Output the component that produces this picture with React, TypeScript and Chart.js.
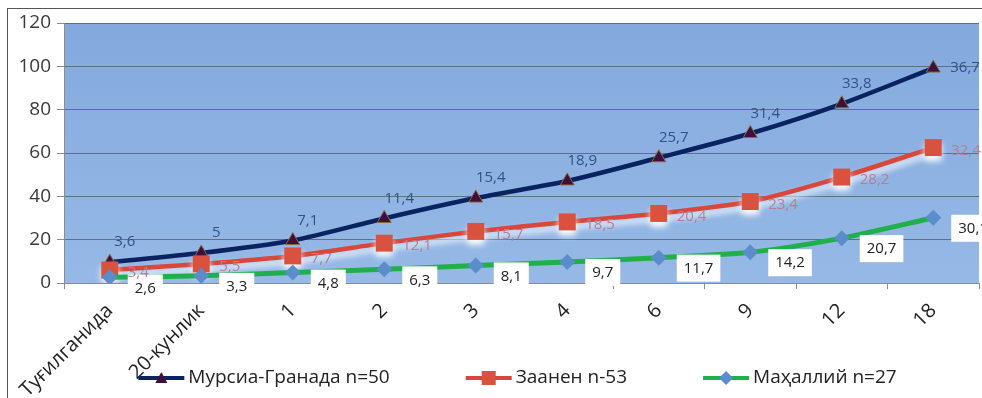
import React, { useEffect, useRef } from "react";
import { Chart, registerables } from "chart.js";

Chart.register(...registerables);

// Age points: at birth, 20 days, then months
const categories = ["Туғилганида", "20-кунлик", "1", "2", "3", "4", "6", "9", "12", "18"];

// Live weight per breed group (stacked line chart)
const murciaGranada = [3.6, 5, 7.1, 11.4, 15.4, 18.9, 25.7, 31.4, 33.8, 36.7];
const saanen = [3.4, 5.5, 7.7, 12.1, 15.7, 18.5, 20.4, 23.4, 28.2, 32.4];
const local = [2.6, 3.3, 4.8, 6.3, 8.1, 9.7, 11.7, 14.2, 20.7, 30.1];

const seriesNames = ["Мурсиа-Гранада n=50", "Заанен n-53", "Маҳаллий n=27"];

const yTicks = [0, 20, 40, 60, 80, 100, 120];

const FONT = "'Open Sans', 'Noto Sans', sans-serif";

const fmt = (v: number) => String(v).replace(".", ",");

// Plot background gradient
const plotBackground = {
  id: "plotBackground",
  beforeDraw(chart: any) {
    const { ctx, chartArea: a } = chart;
    const g = ctx.createLinearGradient(0, a.top, 0, a.bottom);
    g.addColorStop(0, "#83a9dd");
    g.addColorStop(1, "#96b9e6");
    ctx.save();
    ctx.fillStyle = g;
    ctx.fillRect(a.left, a.top, a.right - a.left, a.bottom - a.top);
    ctx.restore();
  },
};

// White glow under the Saanen line
const glow = {
  id: "glow",
  beforeDatasetDraw(chart: any, args: any) {
    const ds = chart.data.datasets[args.index];
    chart.ctx.save();
    if (ds.glow) {
      chart.ctx.shadowColor = "rgba(255,255,255,0.95)";
      chart.ctx.shadowBlur = 6;
      chart.ctx.shadowOffsetY = 5;
    }
  },
  afterDatasetDraw(chart: any) {
    chart.ctx.restore();
  },
};

// Value labels next to each point
const valueLabels = {
  id: "valueLabels",
  afterDatasetsDraw(chart: any) {
    const { ctx } = chart;
    ctx.save();
    ctx.textBaseline = "middle";
    ctx.font = `15px ${FONT}`;
    chart.data.datasets.forEach((ds: any, di: number) => {
      const meta = chart.getDatasetMeta(di);
      const last = ds.data.length - 1;
      meta.data.forEach((pt: any, i: number) => {
        const text = fmt(ds.data[i]);
        if (ds.labelStyle === "above") {
          ctx.fillStyle = "#34508a";
          if (i === last) {
            ctx.textAlign = "left";
            ctx.fillText(text, pt.x + 17, pt.y);
          } else {
            ctx.textAlign = "center";
            ctx.fillText(text, pt.x + 15, pt.y - 20);
          }
        } else if (ds.labelStyle === "right") {
          ctx.fillStyle = "#b47f95";
          ctx.textAlign = "left";
          ctx.fillText(text, pt.x + 18, pt.y + 3);
        } else {
          const w = ctx.measureText(text).width;
          const bx = pt.x + 18;
          const by = pt.y + 10;
          ctx.fillStyle = "#ffffff";
          ctx.fillRect(bx, by - 13, w + 14, 27);
          ctx.fillStyle = "#222222";
          ctx.textAlign = "left";
          ctx.fillText(text, bx + 7, by + 1);
        }
      });
    });
    ctx.restore();
  },
};

// Legend drawn across the bottom, over the rotated category labels
const bottomLegend = {
  id: "bottomLegend",
  afterDraw(chart: any) {
    const { ctx, chartArea: a } = chart;
    const order = [2, 1, 0];
    const lineLen = 46;
    const gap = 76;
    ctx.save();
    ctx.font = `19px ${FONT}`;
    ctx.textBaseline = "middle";
    ctx.textAlign = "left";
    const widths = order.map((di) => lineLen + 4 + ctx.measureText(chart.data.datasets[di].label).width);
    const total = widths.reduce((s, w) => s + w, 0) + gap * (order.length - 1);
    let x = (a.left + a.right) / 2 - total / 2 - 4;
    const y = 369;
    order.forEach((di, k) => {
      const ds = chart.data.datasets[di];
      ctx.strokeStyle = ds.borderColor;
      ctx.lineWidth = 4;
      ctx.beginPath();
      ctx.moveTo(x, y);
      ctx.lineTo(x + lineLen, y);
      ctx.stroke();
      const mx = x + lineLen / 2;
      ctx.fillStyle = ds.pointBackgroundColor;
      ctx.beginPath();
      if (ds.pointStyle === "triangle") {
        ctx.moveTo(mx, y - 6);
        ctx.lineTo(mx + 6, y + 5);
        ctx.lineTo(mx - 6, y + 5);
      } else if (ds.pointStyle === "rect") {
        ctx.rect(mx - 7, y - 7, 14, 14);
      } else {
        ctx.moveTo(mx, y - 7);
        ctx.lineTo(mx + 7, y);
        ctx.lineTo(mx, y + 7);
        ctx.lineTo(mx - 7, y);
      }
      ctx.closePath();
      ctx.fill();
      ctx.fillStyle = "#222222";
      ctx.fillText(ds.label, x + lineLen + 4, y);
      x += widths[k] + gap;
    });
    ctx.restore();
  },
};

export default function App() {
  const ref = useRef<HTMLCanvasElement>(null);

  useEffect(() => {
    if (!ref.current) return;
    const chart = new Chart(ref.current, {
      type: "line",
      data: {
        labels: categories,
        datasets: [
          {
            label: seriesNames[2],
            data: local,
            borderColor: "#1fb04a",
            backgroundColor: "#1fb04a",
            borderWidth: 5,
            pointStyle: "rectRot",
            pointRadius: 8,
            pointBackgroundColor: "#5b8ccb",
            pointBorderWidth: 0,
            tension: 0.25,
            fill: false,
            labelStyle: "box",
          } as any,
          {
            label: seriesNames[1],
            data: saanen,
            borderColor: "#d9473b",
            backgroundColor: "#d9473b",
            borderWidth: 4.5,
            pointStyle: "rect",
            pointRadius: 12,
            pointBackgroundColor: "#d8523f",
            pointBorderWidth: 0,
            tension: 0.25,
            fill: false,
            glow: true,
            labelStyle: "right",
          } as any,
          {
            label: seriesNames[0],
            data: murciaGranada,
            borderColor: "#0b2260",
            backgroundColor: "#0b2260",
            borderWidth: 4.5,
            pointStyle: "triangle",
            pointRadius: 8,
            pointBackgroundColor: "#3f0f3c",
            pointBorderColor: "#8a6a3a",
            pointBorderWidth: 1,
            tension: 0.25,
            fill: false,
            labelStyle: "above",
          } as any,
        ],
      },
      options: {
        responsive: false,
        animation: false,
        layout: { padding: { left: 0, right: 0, top: 14, bottom: 0 } },
        plugins: {
          legend: { display: false },
          tooltip: { enabled: false },
        },
        scales: {
          x: {
            offset: true,
            grid: {
              offset: true,
              drawOnChartArea: false,
              drawTicks: true,
              tickLength: 6,
              color: "#8c8c8c",
            },
            border: { color: "#8c8c8c" },
            ticks: {
              minRotation: 45,
              maxRotation: 45,
              autoSkip: false,
              padding: 10,
              color: "#222222",
              font: { family: FONT, size: 20 },
            },
            afterFit: (s: any) => {
              s.height = 115;
              s.paddingLeft = 0;
              s.paddingRight = 0;
            },
          },
          y: {
            stacked: true,
            min: yTicks[0],
            max: yTicks[yTicks.length - 1],
            afterBuildTicks: (s: any) => {
              s.ticks = yTicks.map((v) => ({ value: v }));
            },
            grid: {
              color: "#5f6f88",
              lineWidth: 1,
              drawTicks: true,
              tickLength: 7,
              tickColor: "#8c8c8c",
            },
            border: { color: "#8c8c8c" },
            ticks: {
              padding: 6,
              color: "#3a3a3a",
              font: { family: FONT, size: 19 },
            },
            afterFit: (s: any) => {
              s.width = 56;
              s.paddingTop = 0;
              s.paddingBottom = 0;
            },
          },
        },
      },
      plugins: [plotBackground, glow, valueLabels, bottomLegend],
    });
    return () => chart.destroy();
  }, []);

  return (
    <div
      style={{
        position: "fixed",
        left: 0,
        top: 0,
        width: 982,
        height: 398,
        overflow: "hidden",
        background: "#ffffff",
      }}
    >
      <div
        style={{
          position: "absolute",
          left: 7,
          top: 8,
          width: 975,
          height: 390,
          borderLeft: "1px solid #555",
          borderTop: "1px solid #555",
        }}
      >
        <canvas ref={ref} width={983} height={389} style={{ display: "block" }} />
      </div>
    </div>
  );
}
